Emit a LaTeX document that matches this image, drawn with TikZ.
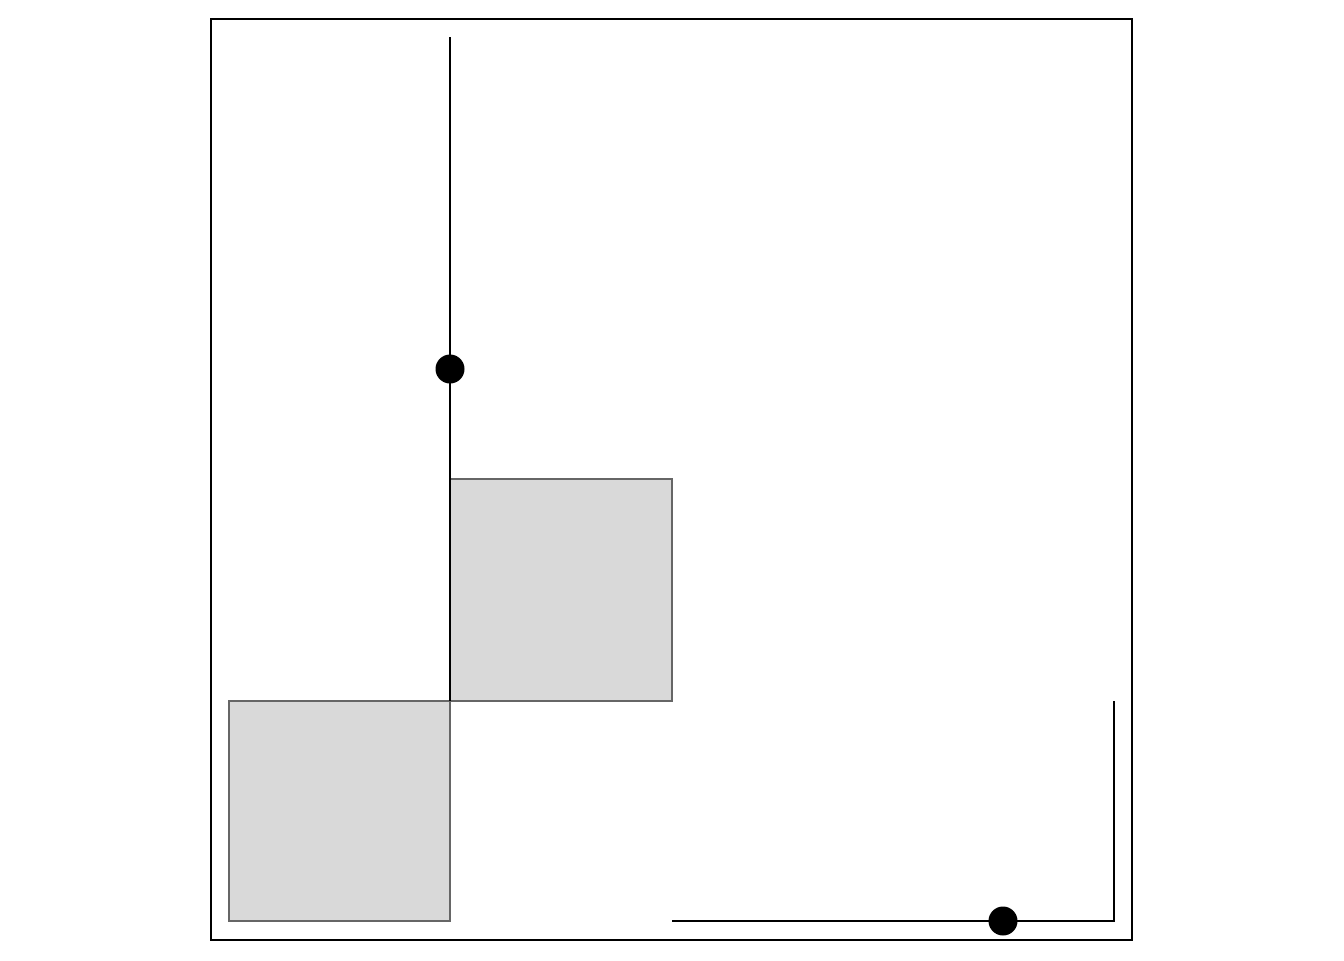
\documentclass[tikz,border=0pt]{standalone}
\begin{document}
\begin{tikzpicture}[x=0.5pt,y=-0.5pt,
  frame/.style={draw=black,line width=0.6pt},
  sqbox/.style={fill=black!15,draw=black!60,line width=0.8pt},
  wire/.style={draw=black,line width=1pt},
  blob/.style={circle,fill=black,inner sep=0pt,minimum size=14.5pt}]
\useasboundingbox (0,0) rectangle (1344,960);
\draw[frame] (211,19) rectangle (1132,940);
\draw[sqbox] (229,701) rectangle (450,921);
\draw[sqbox] (450,479) rectangle (672,701);
\coordinate (vtop) at (450,37);
\coordinate (vbot) at (450,701);
\coordinate (hleft) at (672,921);
\coordinate (corner) at (1114,921);
\coordinate (rtop) at (1114,701);
\draw[wire] (vtop) -- (vbot);
\draw[wire] (hleft) -- (corner) -- (rtop);
\node[blob] (d1) at (450,369) {};
\node[blob] (d2) at (1003,921) {};
\end{tikzpicture}
\end{document}
